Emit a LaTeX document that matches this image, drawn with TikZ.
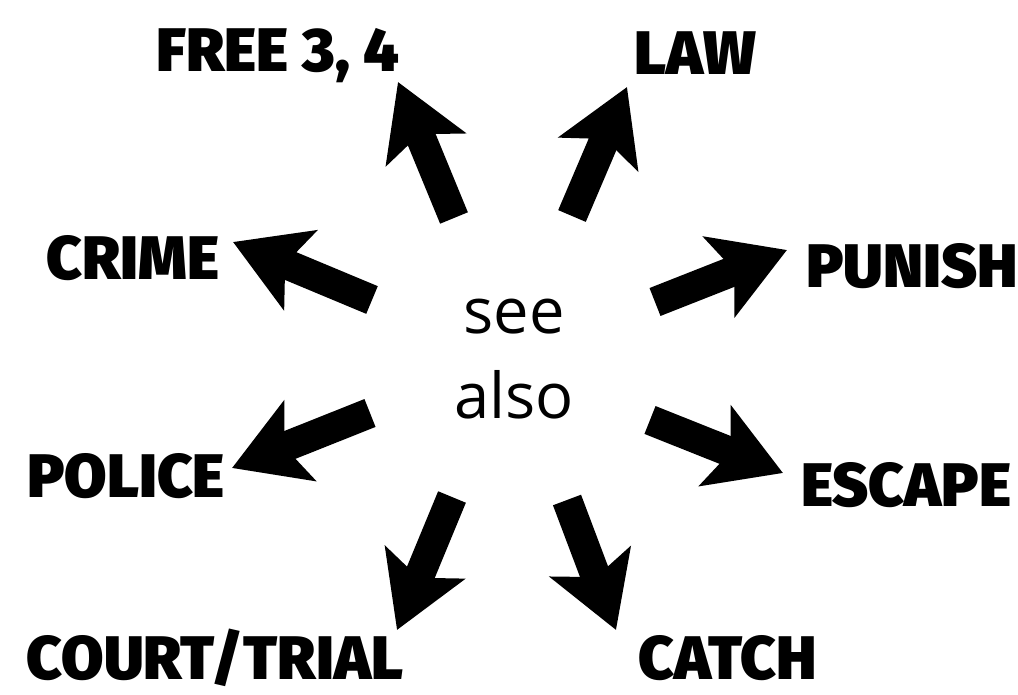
\documentclass[tikz,border=0pt]{standalone}
\usepackage{fontspec}
\setmainfont{Open Sans}
\newfontfamily\blackfont{Fira Sans}[UprightFont={* Black}]
\usetikzlibrary{arrows.meta}

\tikzset{
  bigarrow/.style={line width=0.6cm,-{Stealth[length=1.45cm,width=1.7cm,inset=0.32cm]}},
  topic/.style={anchor=base,inner sep=0pt,font=\blackfont\fontsize{35}{40}\selectfont}
}

\begin{document}
\begin{tikzpicture}[x=0.02cm,y=-0.02cm]
\useasboundingbox (0,0) rectangle (1018,695);
\node[align=center,font=\fontsize{36}{48.4}\selectfont] (see) at (514,359) {see\\also};
% topics round the centre
\node[topic] (free) at (278,72) {FREE 3, 4};
\node[topic] (law) at (695,75) {LAW};
\node[topic] (crime) at (133,280) {CRIME};
\node[topic] (punish) at (912,288) {PUNISH};
\node[topic] (police) at (126,498) {POLICE};
\node[topic] (escape) at (906,507) {ESCAPE};
\node[topic] (court) at (215,680) {COURT/TRIAL};
\node[topic] (catch) at (728,680) {CATCH};
% tails and tips of the arrows
\coordinate (freeT) at (454,218);   \coordinate (freeH) at (398,82);
\coordinate (lawT) at (572,216);    \coordinate (lawH) at (627,87);
\coordinate (crimeT) at (372,300);  \coordinate (crimeH) at (233,242);
\coordinate (punishT) at (655,302); \coordinate (punishH) at (787,250);
\coordinate (policeT) at (370,413); \coordinate (policeH) at (232,468);
\coordinate (escapeT) at (650,420); \coordinate (escapeH) at (783,473);
\coordinate (courtT) at (452,497);  \coordinate (courtH) at (397,630);
\coordinate (catchT) at (567,500);  \coordinate (catchH) at (616,630);
\draw[bigarrow] (freeT) -- (freeH);
\draw[bigarrow] (lawT) -- (lawH);
\draw[bigarrow] (crimeT) -- (crimeH);
\draw[bigarrow] (punishT) -- (punishH);
\draw[bigarrow] (policeT) -- (policeH);
\draw[bigarrow] (escapeT) -- (escapeH);
\draw[bigarrow] (courtT) -- (courtH);
\draw[bigarrow] (catchT) -- (catchH);
\end{tikzpicture}
\end{document}
